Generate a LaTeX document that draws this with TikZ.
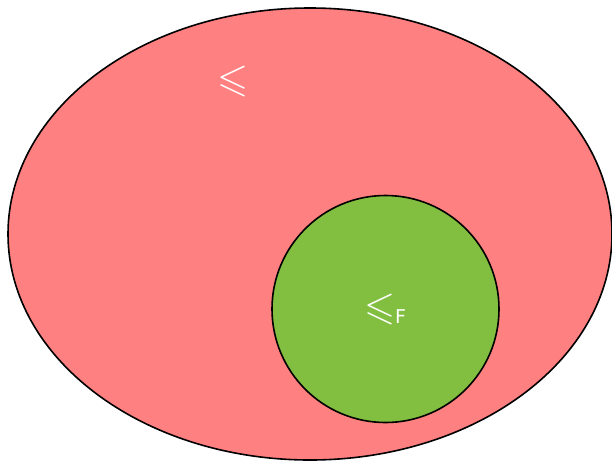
\documentclass[tikz,border=0pt]{standalone}
\usepackage{amsmath}
\usepackage{amssymb}
\usepackage{graphicx}
\usepackage{fontspec}
\setsansfont{DejaVu Sans}
\usepackage{tikz}
\usetikzlibrary{positioning,shapes.geometric}

\definecolor{setred}{HTML}{FF8080}
\definecolor{setgreen}{HTML}{82BF41}

\newcommand{\bigleq}{\scalebox{2.1}{$\leqslant$}}

\begin{document}
\begin{tikzpicture}[
x=1pt,
y=-1pt,
set/.style={
draw=black,
line width=1.6pt,
inner sep=0pt
},
lbl/.style={
text=white,
inner sep=0pt,
font=\sffamily\fontsize{19}{21}\selectfont
}
]

\useasboundingbox (0,0) rectangle (612,461);


% Outer set

\node (order) [set, ellipse, fill=setred,
minimum width=604pt, minimum height=452pt] at (310,234) {};


% Inner set

\node (forder) [set, circle, fill=setgreen,
minimum size=227pt] at (385.5,309) {};


% Labels

\node (leq) [lbl] at (233,82) {\bigleq};

\node (leqf) [lbl] at (385,310)
{\bigleq\raisebox{-4pt}{F}};


\end{tikzpicture}
\end{document}
